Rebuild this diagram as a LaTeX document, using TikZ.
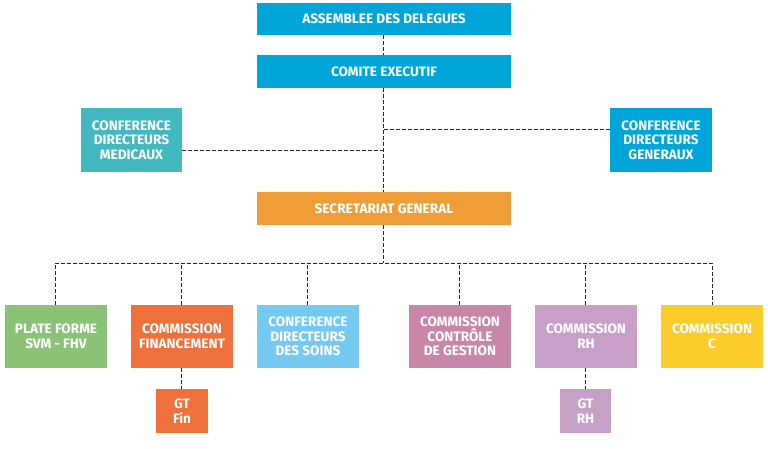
\documentclass[tikz,border=0pt]{standalone}
\usepackage{fontspec}
\setmainfont{Fira Sans}
\definecolor{cblue}{HTML}{00A6D9}
\definecolor{cteal}{HTML}{42B9BF}
\definecolor{corange}{HTML}{EF9D36}
\definecolor{cgreen}{HTML}{8AC376}
\definecolor{cred}{HTML}{EE703A}
\definecolor{clblue}{HTML}{73C9EF}
\definecolor{cpink}{HTML}{C887A9}
\definecolor{cpurple}{HTML}{C8A0C7}
\definecolor{cyellow}{HTML}{FCCC2A}
\tikzset{
  orgbox/.style={fill=#1, draw=none, text=white, inner sep=0pt, align=center,
    font=\fontsize{10.2}{11}\selectfont\bfseries},
  link/.style={draw=black!85, line width=0.6pt, dash pattern=on 2.6pt off 1.9pt},
}
\begin{document}
\begin{tikzpicture}[x=0.75pt,y=-0.75pt]
\useasboundingbox (0,0) rectangle (768,449);
\node[orgbox=cblue, minimum width=190.5pt, minimum height=24pt] (ass) at (384,19) {ASSEMBLEE DES DELEGUES};
\node[orgbox=cblue, minimum width=190.5pt, minimum height=24.75pt] (com) at (384,71.5) {COMITE EXECUTIF};
\node[orgbox=cteal, minimum width=75.75pt, minimum height=48pt] (cdm) at (131.5,140) {CONFERENCE\\DIRECTEURS\\MEDICAUX};
\node[orgbox=cblue, minimum width=76.5pt, minimum height=48pt] (cdg) at (661,140) {CONFERENCE\\DIRECTEURS\\GENERAUX};
\node[orgbox=corange, minimum width=190.5pt, minimum height=24.75pt] (sec) at (384,208.5) {SECRETARIAT GENERAL};
\node[orgbox=cgreen, minimum width=76.5pt, minimum height=47.25pt] (pf) at (56,336.5) {PLATE FORME\\SVM - FHV};
\node[orgbox=cred, minimum width=76.5pt, minimum height=47.25pt] (fin) at (182,336.5) {COMMISSION\\FINANCEMENT};
\node[orgbox=clblue, minimum width=76.5pt, minimum height=47.25pt] (cds) at (308,336.5) {CONFERENCE\\DIRECTEURS\\DES SOINS};
\node[orgbox=cpink, minimum width=76.5pt, minimum height=47.25pt] (ccg) at (460,336.5) {COMMISSION\\CONTRÔLE\\DE GESTION};
\node[orgbox=cpurple, minimum width=76.5pt, minimum height=47.25pt] (rh) at (586,336.5) {COMMISSION\\RH};
\node[orgbox=cyellow, minimum width=76.5pt, minimum height=47.25pt] (cc) at (712,336.5) {COMMISSION\\C};
\node[orgbox=cred, minimum width=39pt, minimum height=33pt] (gtfin) at (182,411) {GT\\Fin};
\node[orgbox=cpurple, minimum width=38.25pt, minimum height=33pt] (gtrh) at (585.5,411) {GT\\RH};
\coordinate (spine) at (383,0);
\coordinate (bus) at (383,263);
\draw[link] (ass.south -| spine) -- (com.north -| spine);
\draw[link] (com.south -| spine) -- (sec.north -| spine);
\draw[link] (cdm.east |- 0,150) -- (spine |- 0,150);
\draw[link] (cdg.west |- 0,129) -- (spine |- 0,129);
\draw[link] (sec.south -| spine) -- (bus);
\draw[link] (pf.north -| 55,0) |- (bus) -| (cc.north);
\draw[link] (fin.north -| 181,0) -- (181,263);
\draw[link] (cds.north -| 307,0) -- (307,263);
\draw[link] (ccg.north -| 459,0) -- (459,263);
\draw[link] (rh.north -| 585,0) -- (585,263);
\draw[link] (fin.south -| 181,0) -- (gtfin.north -| 181,0);
\draw[link] (rh.south -| 585,0) -- (gtrh.north -| 585,0);
\end{tikzpicture}
\end{document}
